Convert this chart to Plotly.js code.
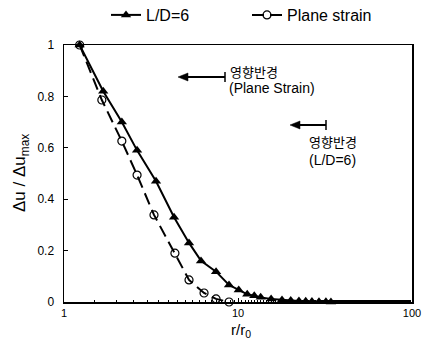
<!DOCTYPE html>
<html>
<head>
<meta charset="utf-8">
<script src="https://cdn.plot.ly/plotly-3.0.1.min.js"></script>
<style>html,body{margin:0;padding:0;background:#fff;}#chart{width:422px;height:340px;}</style>
</head>
<body>
<div id="chart"></div>
<script>
// r/r0 and normalized displacement for L/D=6
const ldR = [1.23, 1.68, 2.15, 2.63, 3.38, 4.29, 5.23, 6.13, 7.48, 8.88, 10.1, 11.3, 12.4, 13.5, 15.5, 17.9, 20.1, 22.4, 24.5, 26.6, 29.2, 32.0, 34.2];
const ldU = [1.0, 0.82, 0.70, 0.59, 0.47, 0.33, 0.23, 0.16, 0.118, 0.066, 0.047, 0.03, 0.024, 0.018, 0.012, 0.008, 0.006, 0.004, 0.003, 0.002, 0.001, 0.001, 0.0];
// Plane strain
const psR = [1.23, 1.65, 2.15, 2.63, 3.29, 4.34, 5.23, 6.38, 7.48, 8.88];
const psU = [1.0, 0.786, 0.626, 0.494, 0.339, 0.19, 0.086, 0.035, 0.012, 0.0];
const xTicks = [1, 10, 100];
const xTickText = ['1', '10', '100'];
const yTicks = [0, 0.2, 0.4, 0.6, 0.8, 1];
const yTickText = ['0', '0.2', '0.4', '0.6', '0.8', '1'];

const FONT = 'Liberation Sans, Arial, Helvetica, sans-serif';
const KFONT = 'Noto Sans CJK KR, sans-serif';

const traces = [
  {x: ldR, y: ldU, name: 'L/D=6', mode: 'lines+markers', cliponaxis: false,
   line: {color: '#000', width: 2},
   marker: {symbol: 'triangle-up', size: 9, color: '#000'}},
  {x: psR, y: psU, name: 'Plane strain', mode: 'lines+markers', cliponaxis: false,
   line: {color: '#000', width: 2, dash: '12px,6px'},
   marker: {symbol: 'circle-open', size: 8, color: '#000', line: {width: 1.2}}}
];

function px(x){return (x-64)/348;}
function py(y){return (302-y)/257;}

function arrow(headX, tailX, yy){
  const h = 10, w = 4;
  return [
    {type: 'line', xref: 'paper', yref: 'paper', x0: px(headX + h - 1), x1: px(tailX), y0: py(yy), y1: py(yy),
     line: {color: '#000', width: 2}},
    {type: 'path', xref: 'paper', yref: 'paper',
     path: 'M ' + px(headX) + ',' + py(yy) + ' L ' + px(headX + h) + ',' + py(yy - w) + ' L ' + px(headX + h) + ',' + py(yy + w) + ' Z',
     fillcolor: '#000', line: {color: '#000', width: 0.5}},
    {type: 'line', xref: 'paper', yref: 'paper', x0: px(tailX), x1: px(tailX), y0: py(yy - 5), y1: py(yy + 5),
     line: {color: '#000', width: 1.5}}
  ];
}

const layout = {
  width: 422, height: 340,
  margin: {l: 64, r: 10, t: 45, b: 38, autoexpand: false},
  paper_bgcolor: '#fff', plot_bgcolor: '#fff',
  font: {family: FONT, color: '#000', size: 12},
  showlegend: true,
  legend: {orientation: 'h', x: px(106), xanchor: 'left', y: py(15), yanchor: 'middle',
           font: {family: FONT, size: 16, color: '#000'}, entrywidth: 96, entrywidthmode: 'pixels',
           bgcolor: 'rgba(0,0,0,0)'},
  xaxis: {type: 'log', range: [0, 2], tickvals: xTicks, ticktext: xTickText,
          showline: true, mirror: true, linecolor: '#000', linewidth: 1.5,
          ticks: 'inside', ticklen: 4, tickcolor: '#000', showgrid: false, zeroline: false,
          minor: {ticks: 'inside', ticklen: 2, tickcolor: '#000', showgrid: false},
          ticklabelstandoff: 0, automargin: false,
          tickfont: {size: 11, family: FONT, color: '#000'}},
  yaxis: {range: [0, 1], tickvals: yTicks, ticktext: yTickText,
          showline: true, mirror: true, linecolor: '#000', linewidth: 1.5,
          ticks: 'inside', ticklen: 4, tickcolor: '#000', showgrid: false, zeroline: false,
          ticklabelstandoff: 6, automargin: false,
          tickfont: {size: 12, family: FONT, color: '#000'}},
  annotations: [
    {xref: 'paper', yref: 'paper', x: px(241), y: py(330), text: 'r/r<sub>0</sub>', showarrow: false,
     font: {size: 15, family: FONT}, xanchor: 'center', yanchor: 'middle'},
    {xref: 'paper', yref: 'paper', x: px(21), y: py(173), text: 'Δu / Δu<sub>max</sub>', showarrow: false,
     textangle: -90, font: {size: 17, family: FONT}, xanchor: 'center', yanchor: 'middle'},
    {xref: 'paper', yref: 'paper', x: px(228), y: py(71), text: '영향반경', showarrow: false,
     font: {size: 13, family: KFONT}, xanchor: 'left', yanchor: 'middle'},
    {xref: 'paper', yref: 'paper', x: px(227), y: py(88), text: '(Plane Strain)', showarrow: false,
     font: {size: 14, family: FONT}, xanchor: 'left', yanchor: 'middle'},
    {xref: 'paper', yref: 'paper', x: px(333), y: py(141), text: '영향반경', showarrow: false,
     font: {size: 13, family: KFONT}, xanchor: 'center', yanchor: 'middle'},
    {xref: 'paper', yref: 'paper', x: px(332), y: py(160), text: '(L/D=6)', showarrow: false,
     font: {size: 14, family: FONT}, xanchor: 'center', yanchor: 'middle'}
  ],
  shapes: [].concat(arrow(178, 225, 77), arrow(290, 326, 125))
};

Plotly.newPlot('chart', traces, layout, {displayModeBar: false, staticPlot: true});
</script>
</body>
</html>
